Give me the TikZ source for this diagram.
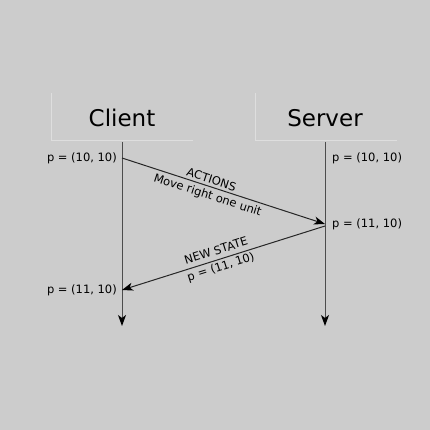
\documentclass[tikz,border=0pt]{standalone}
\usepackage{fontspec}
\setmainfont{DejaVu Sans}
\usetikzlibrary{arrows.meta}
\begin{document}
\begin{tikzpicture}[x=1pt,y=-1pt,
  lbl/.style={font=\fontsize{11.5}{13}\selectfont, inner sep=0pt},
  hdr/.style={font=\fontsize{23}{26}\selectfont, inner sep=0pt},
  life/.style={draw=black!70, line width=1pt, -{Stealth[length=11pt,width=8pt,inset=3pt,color=black]}},
  msg/.style={draw=black!85, line width=1pt, -{Stealth[length=11pt,width=8pt,inset=3pt,color=black]}}]
\fill[fill={rgb,255:red,204;green,204;blue,204}] (0,0) rectangle (430,430);
\useasboundingbox (0,0) rectangle (430,430);
% header boxes
\draw[color={rgb,255:red,222;green,222;blue,222}, line width=0.8pt] (51,93) -- (51,140) -- (193,140);
\draw[color={rgb,255:red,222;green,222;blue,222}, line width=0.8pt] (255,93) -- (255,140) -- (397,140);
\node[hdr] (client) at (122,118) {Client};
\node[hdr] (server) at (325,118) {Server};
% lifelines
\coordinate (c0) at (122,142);
\coordinate (c1) at (122,326);
\coordinate (s0) at (325,142);
\coordinate (s1) at (325,326);
\draw[life] (c0) -- (c1);
\draw[life] (s0) -- (s1);
% message points
\coordinate (ca) at (122,158);
\coordinate (sa) at (325,224);
\coordinate (sb) at (325,226);
\coordinate (cb) at (122,290);
\draw[msg] (ca) -- (sa);
\draw[msg] (sb) -- (cb);
% state labels
\node[lbl, anchor=east] (l1) at (117,158.5) {p = (10, 10)};
\node[lbl, anchor=east] (l2) at (117,290.5) {p = (11, 10)};
\node[lbl, anchor=west] (r1) at (332,158.5) {p = (10, 10)};
\node[lbl, anchor=west] (r2) at (332,224.5) {p = (11, 10)};
% message labels
\node[lbl, rotate=-18] (act) at (211.5,179.5) {ACTIONS};
\node[lbl, rotate=-18] (mv) at (207.5,195.5) {Move right one unit};
\node[lbl, rotate=17.5] (ns) at (216,250.5) {NEW STATE};
\node[lbl, rotate=17.5] (np) at (221,267.5) {p = (11, 10)};
\end{tikzpicture}
\end{document}
